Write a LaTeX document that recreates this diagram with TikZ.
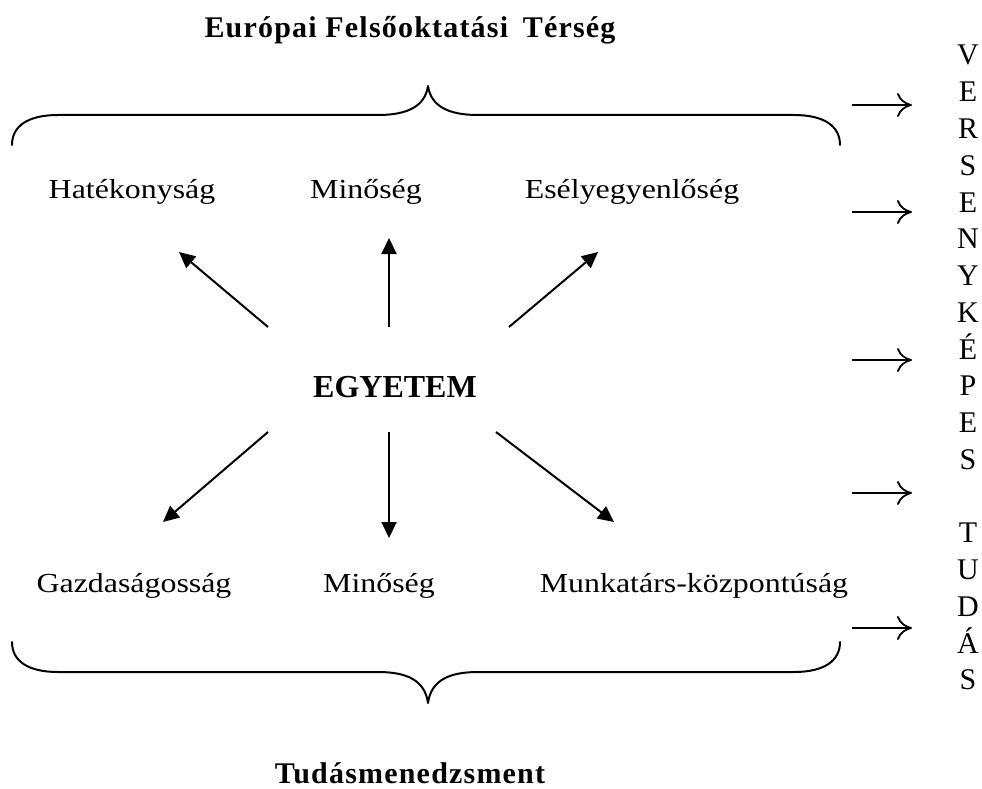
\documentclass[tikz,border=0pt]{standalone}
\usepackage{fontspec}
\setmainfont{Liberation Serif}
\newfontfamily\lblfont[FakeStretch=1.16]{Liberation Serif}
\newfontfamily\headfont[LetterSpace=4]{Liberation Serif}
\newfontfamily\colfont{Liberation Serif}
\usetikzlibrary{arrows.meta}
\begin{document}
\begin{tikzpicture}[x=1pt,y=-1pt,
  lbl/.style={anchor=base,inner sep=0pt,font=\lblfont\fontsize{27.5}{30}\selectfont},
  head/.style={anchor=base,inner sep=0pt,font=\headfont\bfseries\fontsize{30}{32}\selectfont},
  core/.style={anchor=base,inner sep=0pt,font=\bfseries\fontsize{32}{34}\selectfont},
  colletter/.style={anchor=base,inner sep=0pt,font=\colfont\fontsize{30}{32}\selectfont},
  ray/.style={line width=2pt,-{Triangle[length=16pt,width=15pt]}},
  outarrow/.style={line width=1.8pt,-{Computer Modern Rightarrow[length=15pt,width=24pt,line width=1.8pt]}},
  bracepath/.style={line width=2pt,line cap=round,line join=round}]
\useasboundingbox (0,0) rectangle (982,789);
\fill[white] (0,0) rectangle (982,789);

% headings
\node[head] (eft) at (410,38) {Európai Felsőoktatási\hspace{6pt} Térség};
\node[head] (tm) at (410,783) {Tudásmenedzsment};

% top brace
\draw[bracepath] (12,145) .. controls (12,126) and (28,115) .. (58,115)
  -- (378,115) .. controls (408,115) and (425,106) .. (428,86)
  .. controls (431,106) and (448,115) .. (478,115)
  -- (794,115) .. controls (824,115) and (840,126) .. (840,145);

% bottom brace
\draw[bracepath] (12,642) .. controls (12,661) and (28,672) .. (58,672)
  -- (378,672) .. controls (408,672) and (425,681) .. (428,703)
  .. controls (431,681) and (448,672) .. (478,672)
  -- (794,672) .. controls (824,672) and (840,661) .. (840,642);

% labels
\node[lbl] (hat) at (132,198) {Hatékonyság};
\node[lbl] (min1) at (366,198) {Minőség};
\node[lbl] (esely) at (632,198) {Esélyegyenlőség};
\node[lbl] (gazd) at (134,592) {Gazdaságosság};
\node[lbl] (min2) at (379,592) {Minőség};
\node[lbl] (munk) at (694,592) {Munkatárs-központúság};

% centre
\node[core] (egy) at (395,397) {EGYETEM};

% ray ends
\coordinate (t1) at (268,327); \coordinate (h1) at (179,252);
\coordinate (t2) at (389,327); \coordinate (h2) at (389,238);
\coordinate (t3) at (509,327); \coordinate (h3) at (598,252);
\coordinate (t4) at (268,432); \coordinate (h4) at (163,522);
\coordinate (t5) at (389,432); \coordinate (h5) at (389,538);
\coordinate (t6) at (496,432); \coordinate (h6) at (614,522);
\foreach \k in {1,...,6} \draw[ray] (t\k) -- (h\k);

% arrows towards the vertical word
\foreach \y [count=\k] in {105,212,360,493,628} {
  \coordinate (o\k) at (852,\y);
  \coordinate (p\k) at (912,\y);
  \draw[outarrow] (o\k) -- (p\k);
}

% vertical word
\foreach \ch/\i in {V/0,E/1,R/2,S/3,E/4,N/5,Y/6,K/7,É/8,P/9,E/10,S/11,T/13,U/14,D/15,Á/16,S/17}
  \node[colletter] (c\i) at (968,{65+36.76*\i}) {\ch};
\end{tikzpicture}
\end{document}
